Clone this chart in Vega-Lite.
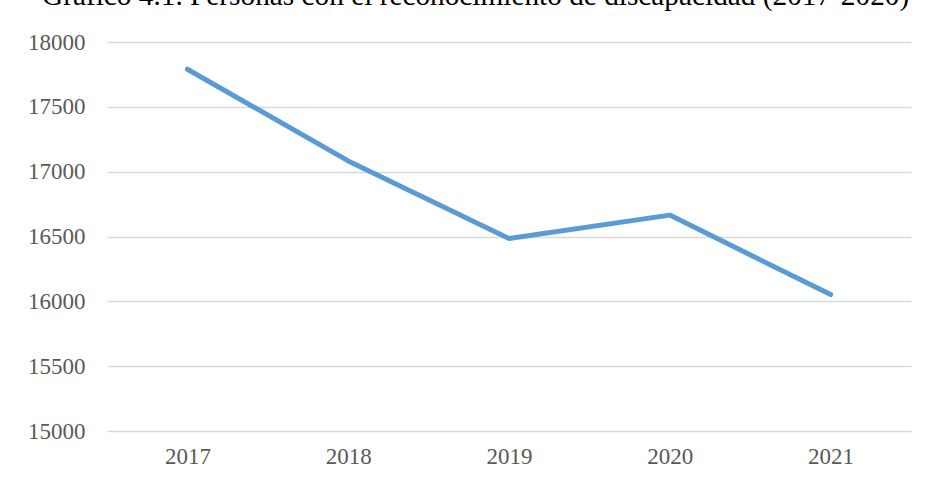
{
  "$schema": "https://vega.github.io/schema/vega-lite/v6.json",
  "autosize": {"type": "none"},
  "width": 804,
  "height": 389,
  "padding": {"left": 107, "top": 42, "right": 17, "bottom": 51},
  "background": "white",
  "title": {
    "text": "Gráfico 4.1. Personas con el reconocimiento de discapacidad (2017-2020)",
    "anchor": "start",
    "frame": "group",
    "dx": -65,
    "offset": -3,
    "baseline": "alphabetic",
    "font": "Liberation Serif",
    "fontSize": 29.3,
    "fontWeight": "normal",
    "color": "#000000"
  },
  "data": {
    "values": [
      {"year": "2017", "value": 17790},
      {"year": "2018", "value": 17083},
      {"year": "2019", "value": 16485},
      {"year": "2020", "value": 16665},
      {"year": "2021", "value": 16052}
    ]
  },
  "mark": {"type": "line", "color": "#5B9BD5", "strokeWidth": 5, "strokeCap": "round", "strokeJoin": "round"},
  "encoding": {
    "x": {
      "field": "year",
      "type": "ordinal",
      "scale": {"type": "point", "padding": 0.5},
      "axis": {
        "title": null,
        "labelAngle": 0,
        "domain": false,
        "ticks": false,
        "grid": false,
        "labelPadding": 32,
        "labelBaseline": "alphabetic",
        "labelFont": "Liberation Serif",
        "labelFontSize": 23,
        "labelColor": "#595959"
      }
    },
    "y": {
      "field": "value",
      "type": "quantitative",
      "scale": {"domain": [15000, 18000], "nice": false, "zero": false},
      "axis": {
        "title": null,
        "values": [15000, 15500, 16000, 16500, 17000, 17500, 18000],
        "format": "d",
        "domain": false,
        "ticks": false,
        "grid": true,
        "gridColor": "#D9D9D9",
        "gridWidth": 1.3,
        "labelPadding": 22,
        "labelBaseline": "middle",
        "labelFont": "Liberation Serif",
        "labelFontSize": 23,
        "labelColor": "#595959"
      }
    }
  },
  "config": {"view": {"stroke": null}}
}
